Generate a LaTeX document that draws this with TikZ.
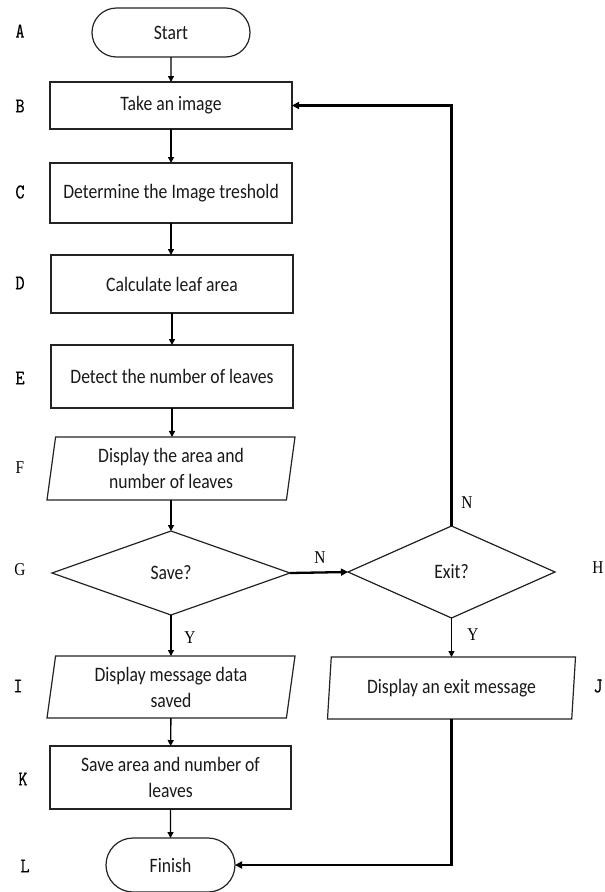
\documentclass[tikz,border=0pt]{standalone}
\usepackage{fontspec}
\setmainfont{Carlito}[FakeStretch=0.86]
\newfontfamily\labfont{Latin Modern Mono}[FakeStretch=0.85,FakeBold=0.5]
\newfontfamily\serfont{Liberation Serif}[FakeStretch=0.85]
\usetikzlibrary{shapes.geometric,shapes.misc,arrows.meta}
\definecolor{linec}{RGB}{35,35,35}
\definecolor{txtc}{RGB}{25,25,25}
\newcommand{\mainsz}{\fontsize{20.5}{26}\selectfont}
\begin{document}
\begin{tikzpicture}[x=1pt,y=-1pt,
  every node/.style={inner sep=0pt,outer sep=0pt},
  shape base/.style={draw=linec,line width=1.2pt,fill=white,align=center,font=\mainsz,text=txtc},
  box/.style={shape base,rectangle},
  term/.style={shape base,rounded rectangle},
  io/.style={shape base,trapezium,trapezium left angle=78,trapezium right angle=102,
             trapezium stretches body},
  dec/.style={shape base,diamond},
  arr/.style={draw=black,line width=1.4pt,-{Triangle[length=6pt,width=6pt]}},
  thickarr/.style={draw=black,line width=2.3pt,-{Triangle[length=7pt,width=7pt]}},
  lab/.style={font=\labfont\fontsize{21}{21}\selectfont},
  slab/.style={font=\serfont\fontsize{18}{18}\selectfont},
  yn/.style={font=\serfont\fontsize{18}{18}\selectfont}
]
\useasboundingbox (0,0) rectangle (605,892);
\fill[white] (0,0) rectangle (605,892);

% main nodes
\node[term, minimum width=158pt, minimum height=49pt] (a) at (171,32.5) {Start};
\node[box, minimum width=242pt, minimum height=47pt] (b) at (171,105.5) {Take an image};
\node[box, minimum width=242pt, minimum height=60pt] (c) at (171,193) {Determine the Image treshold};
\node[box, minimum width=242pt, minimum height=58pt] (d) at (172,284) {Calculate leaf area};
\node[box, minimum width=242pt, minimum height=63pt] (e) at (172,376.5) {Detect the number of leaves};
\node[io, minimum width=248pt, minimum height=63pt] (f) at (171,468.5) {Display the area and\\number of leaves};
\node[dec, minimum width=238pt, minimum height=84pt] (g) at (171,573) {Save?};
\node[dec, minimum width=207pt, minimum height=92pt] (h) at (451.5,572) {Exit?};
\node[io, minimum width=248pt, minimum height=62pt] (i) at (171,687) {Display message data\\saved};
\node[io, minimum width=248pt, minimum height=62pt] (j) at (451.5,688) {Display an exit message};
\node[box, minimum width=241pt, minimum height=63pt] (k) at (170.5,777.5) {Save area and number of\\leaves};
\node[term, minimum width=129pt, minimum height=54pt] (l) at (170.5,865) {Finish};

% connectors
\draw[arr] (a) -- (b);
\draw[arr] (b) -- (c);
\draw[arr] (c.south) -- (c.south |- d.north);
\draw[arr] (d) -- (e);
\draw[arr] (e.south) -- (e.south |- f.north);
\draw[arr] (f.south) -- (f.south |- g.north);
\draw[arr] (g) -- (i);
\draw[arr] (i) -- (k);
\draw[arr] (k) -- (l);
\draw[thickarr] (g.east) -- (h.west);
\draw[thickarr] (h.north) |- (b.east);
\draw[arr] (h) -- (j);
\draw[thickarr] (j.south) |- (l.east);

% branch labels
\node[yn] (n1) at (320,558) {N};
\node[yn] (n2) at (467,503) {N};
\node[yn] (y1) at (190,638) {Y};
\node[yn] (y2) at (473,635) {Y};

% step letters
\node[lab] (la) at (20,31) {A};
\node[lab] (lb) at (20,106) {B};
\node[lab] (lc) at (20,192) {C};
\node[lab] (ld) at (20,283) {D};
\node[lab] (le) at (20,378) {E};
\node[slab] (lf) at (20,468) {F};
\node[slab] (lg) at (20,570) {G};
\node[slab] (lh) at (598,568) {H};
\node[lab] (li) at (18,686) {I};
\node[lab] (lj) at (598,686) {J};
\node[lab] (lk) at (23,779) {K};
\node[lab] (ll) at (25,866) {L};
\end{tikzpicture}
\end{document}
